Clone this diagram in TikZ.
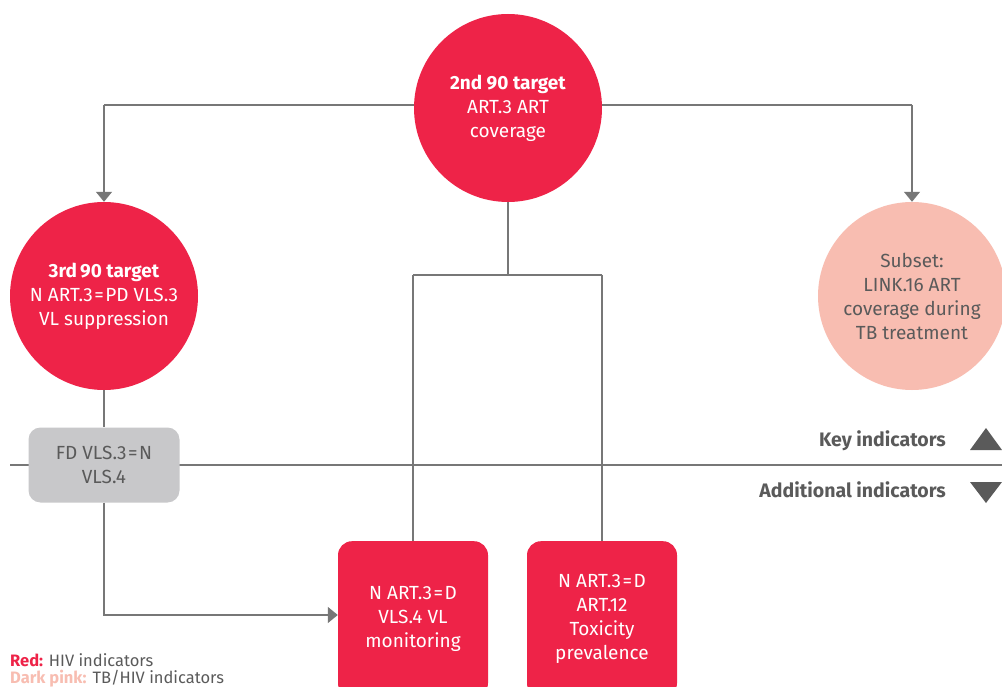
\documentclass[tikz,border=0pt]{standalone}
\usepackage{fontspec}
\setmainfont{Fira Sans}
\usetikzlibrary{arrows.meta}
\definecolor{hivred}{HTML}{EE2348}
\definecolor{tbpink}{HTML}{F8BDB1}
\definecolor{boxgrey}{HTML}{C8C8CA}
\definecolor{txtgrey}{HTML}{5A5A5A}
\definecolor{linegrey}{HTML}{777777}
\newcommand{\eqs}{\kern1.5pt=\kern1.5pt}
\begin{document}
\begin{tikzpicture}[x=1pt,y=-1pt,
  every node/.style={font=\fontsize{19}{24}\selectfont, align=center, inner sep=0pt},
  redcirc/.style={circle, fill=hivred, text=white, minimum size=188pt},
  pinkcirc/.style={circle, fill=tbpink, text=txtgrey, minimum size=188pt},
  greybox/.style={rounded corners=12pt, fill=boxgrey, text=txtgrey, minimum width=151pt, minimum height=75pt},
  redbox/.style={rounded corners=14pt, fill=hivred, text=white, minimum width=150pt, minimum height=156pt, anchor=north},
  conn/.style={draw=linegrey, line width=1.2pt},
  keytxt/.style={text=txtgrey, font=\fontsize{19.5}{24}\selectfont\bfseries, anchor=east},
  legend/.style={text=txtgrey, anchor=west, font=\fontsize{16.5}{20}\selectfont}
]
\useasboundingbox (0,0) rectangle (1002,687);
\fill[white] (0,0) rectangle (1002,687);

% divider line
\coordinate (divL) at (10,465);
\coordinate (divR) at (1002,465);
\draw[conn] (divL) -- (divR);

% nodes
\node[redcirc] (top) at (508,108) {\textbf{2nd 90 target}\\ART.3 ART\\coverage};
\node[redcirc] (left) at (104,296) {\textbf{3rd\,90 target}\\N ART.3\eqs PD VLS.3\\VL suppression};
\node[pinkcirc] (right) at (912,296) {Subset:\\LINK.16 ART\\coverage during\\TB treatment};
\node[greybox] (fd) at (104,465) {FD VLS.3\eqs N\\VLS.4};
\node[redbox] (b1) at (413,541) {N ART.3\eqs D\\VLS.4 VL\\monitoring};
\node[redbox] (b2) at (602,541) {N ART.3\eqs D\\ART.12\\Toxicity\\prevalence};

% coordinates
\coordinate (hL) at (104,105);
\coordinate (hR) at (912,105);
\coordinate (mid) at (508,275);
\coordinate (m1) at (413,275);
\coordinate (m2) at (602,275);
\coordinate (corner) at (104,615);

% connectors
\draw[conn] (top.west |- hL) -- (hL);
\draw[conn] (top.east |- hR) -- (hR);
\draw[conn, -{Triangle[width=16pt,length=10pt]}] (hL) -- (left.north);
\draw[conn, -{Triangle[width=16pt,length=10pt]}] (hR) -- (right.north);
\draw[conn] (top.south) -- (mid);
\draw[conn] (m1) -- (m2);
\draw[conn] (m1) -- (b1.north);
\draw[conn] (m2) -- (b2.north);
\draw[conn] (left.south) -- (fd.north);
\draw[conn, -{Triangle[width=16pt,length=10pt]}] (fd.south) -- (corner) -- (b1.west |- corner);

% key
\node[keytxt] (key) at (946,441) {Key indicators};
\node[keytxt] (add) at (946,490) {Additional indicators};
\fill[txtgrey] (970,450) -- (986,428) -- (1002,450) -- cycle;
\fill[txtgrey] (970,482) -- (986,503) -- (1002,482) -- cycle;

% legend
\node[legend] (l1) at (10,660) {\textcolor{hivred}{\textbf{Red:}} HIV indicators};
\node[legend] (l2) at (10,679) {\textcolor{tbpink}{\textbf{Dark pink:}} TB/HIV indicators};
\end{tikzpicture}
\end{document}
